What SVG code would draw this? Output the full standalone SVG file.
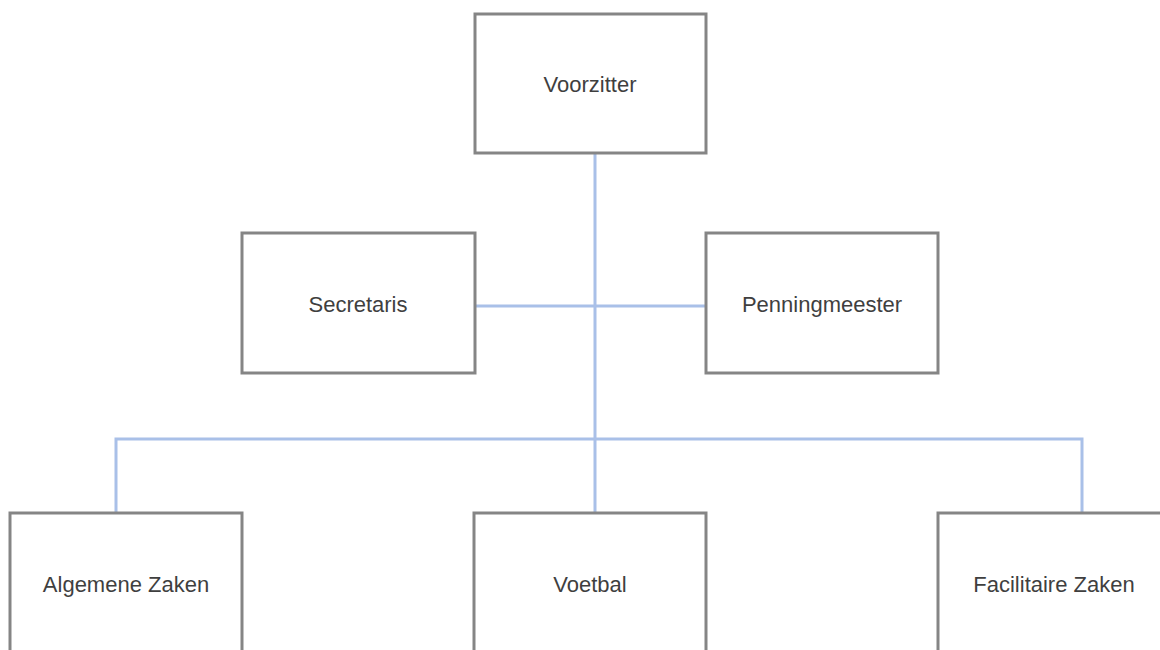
<svg xmlns="http://www.w3.org/2000/svg" width="1160" height="650" viewBox="0 0 1160 650">
<style>
.box{fill:#ffffff;stroke:#858585;stroke-width:3}
.lbl{font-family:"Liberation Sans",Arial,sans-serif;font-size:22px;fill:#3f3f3f;text-anchor:middle;dominant-baseline:central}
.conn{fill:none;stroke:#a9c0e8;stroke-width:3}
</style>
<rect width="1160" height="650" fill="#ffffff"/>
<g id="connectors">
<path class="conn" d="M595,153 V513"/>
<path class="conn" d="M475,306 H713"/>
<path class="conn" d="M116,513 V439 H1082 V513"/>
</g>
<g id="voorzitter"><rect class="box" x="475" y="14" width="231" height="139"/><text class="lbl" x="590" y="84">Voorzitter</text></g>
<g id="secretaris"><rect class="box" x="242" y="233" width="233" height="140"/><text class="lbl" x="358" y="304">Secretaris</text></g>
<g id="penningmeester"><rect class="box" x="706" y="233" width="232" height="140"/><text class="lbl" x="822" y="304">Penningmeester</text></g>
<g id="algemene-zaken"><rect class="box" x="10" y="513" width="232" height="160"/><text class="lbl" x="126" y="584">Algemene Zaken</text></g>
<g id="voetbal"><rect class="box" x="474" y="513" width="232" height="160"/><text class="lbl" x="590" y="584">Voetbal</text></g>
<g id="facilitaire-zaken"><rect class="box" x="938" y="513" width="240" height="160"/><text class="lbl" x="1054" y="584">Facilitaire Zaken</text></g>
</svg>
